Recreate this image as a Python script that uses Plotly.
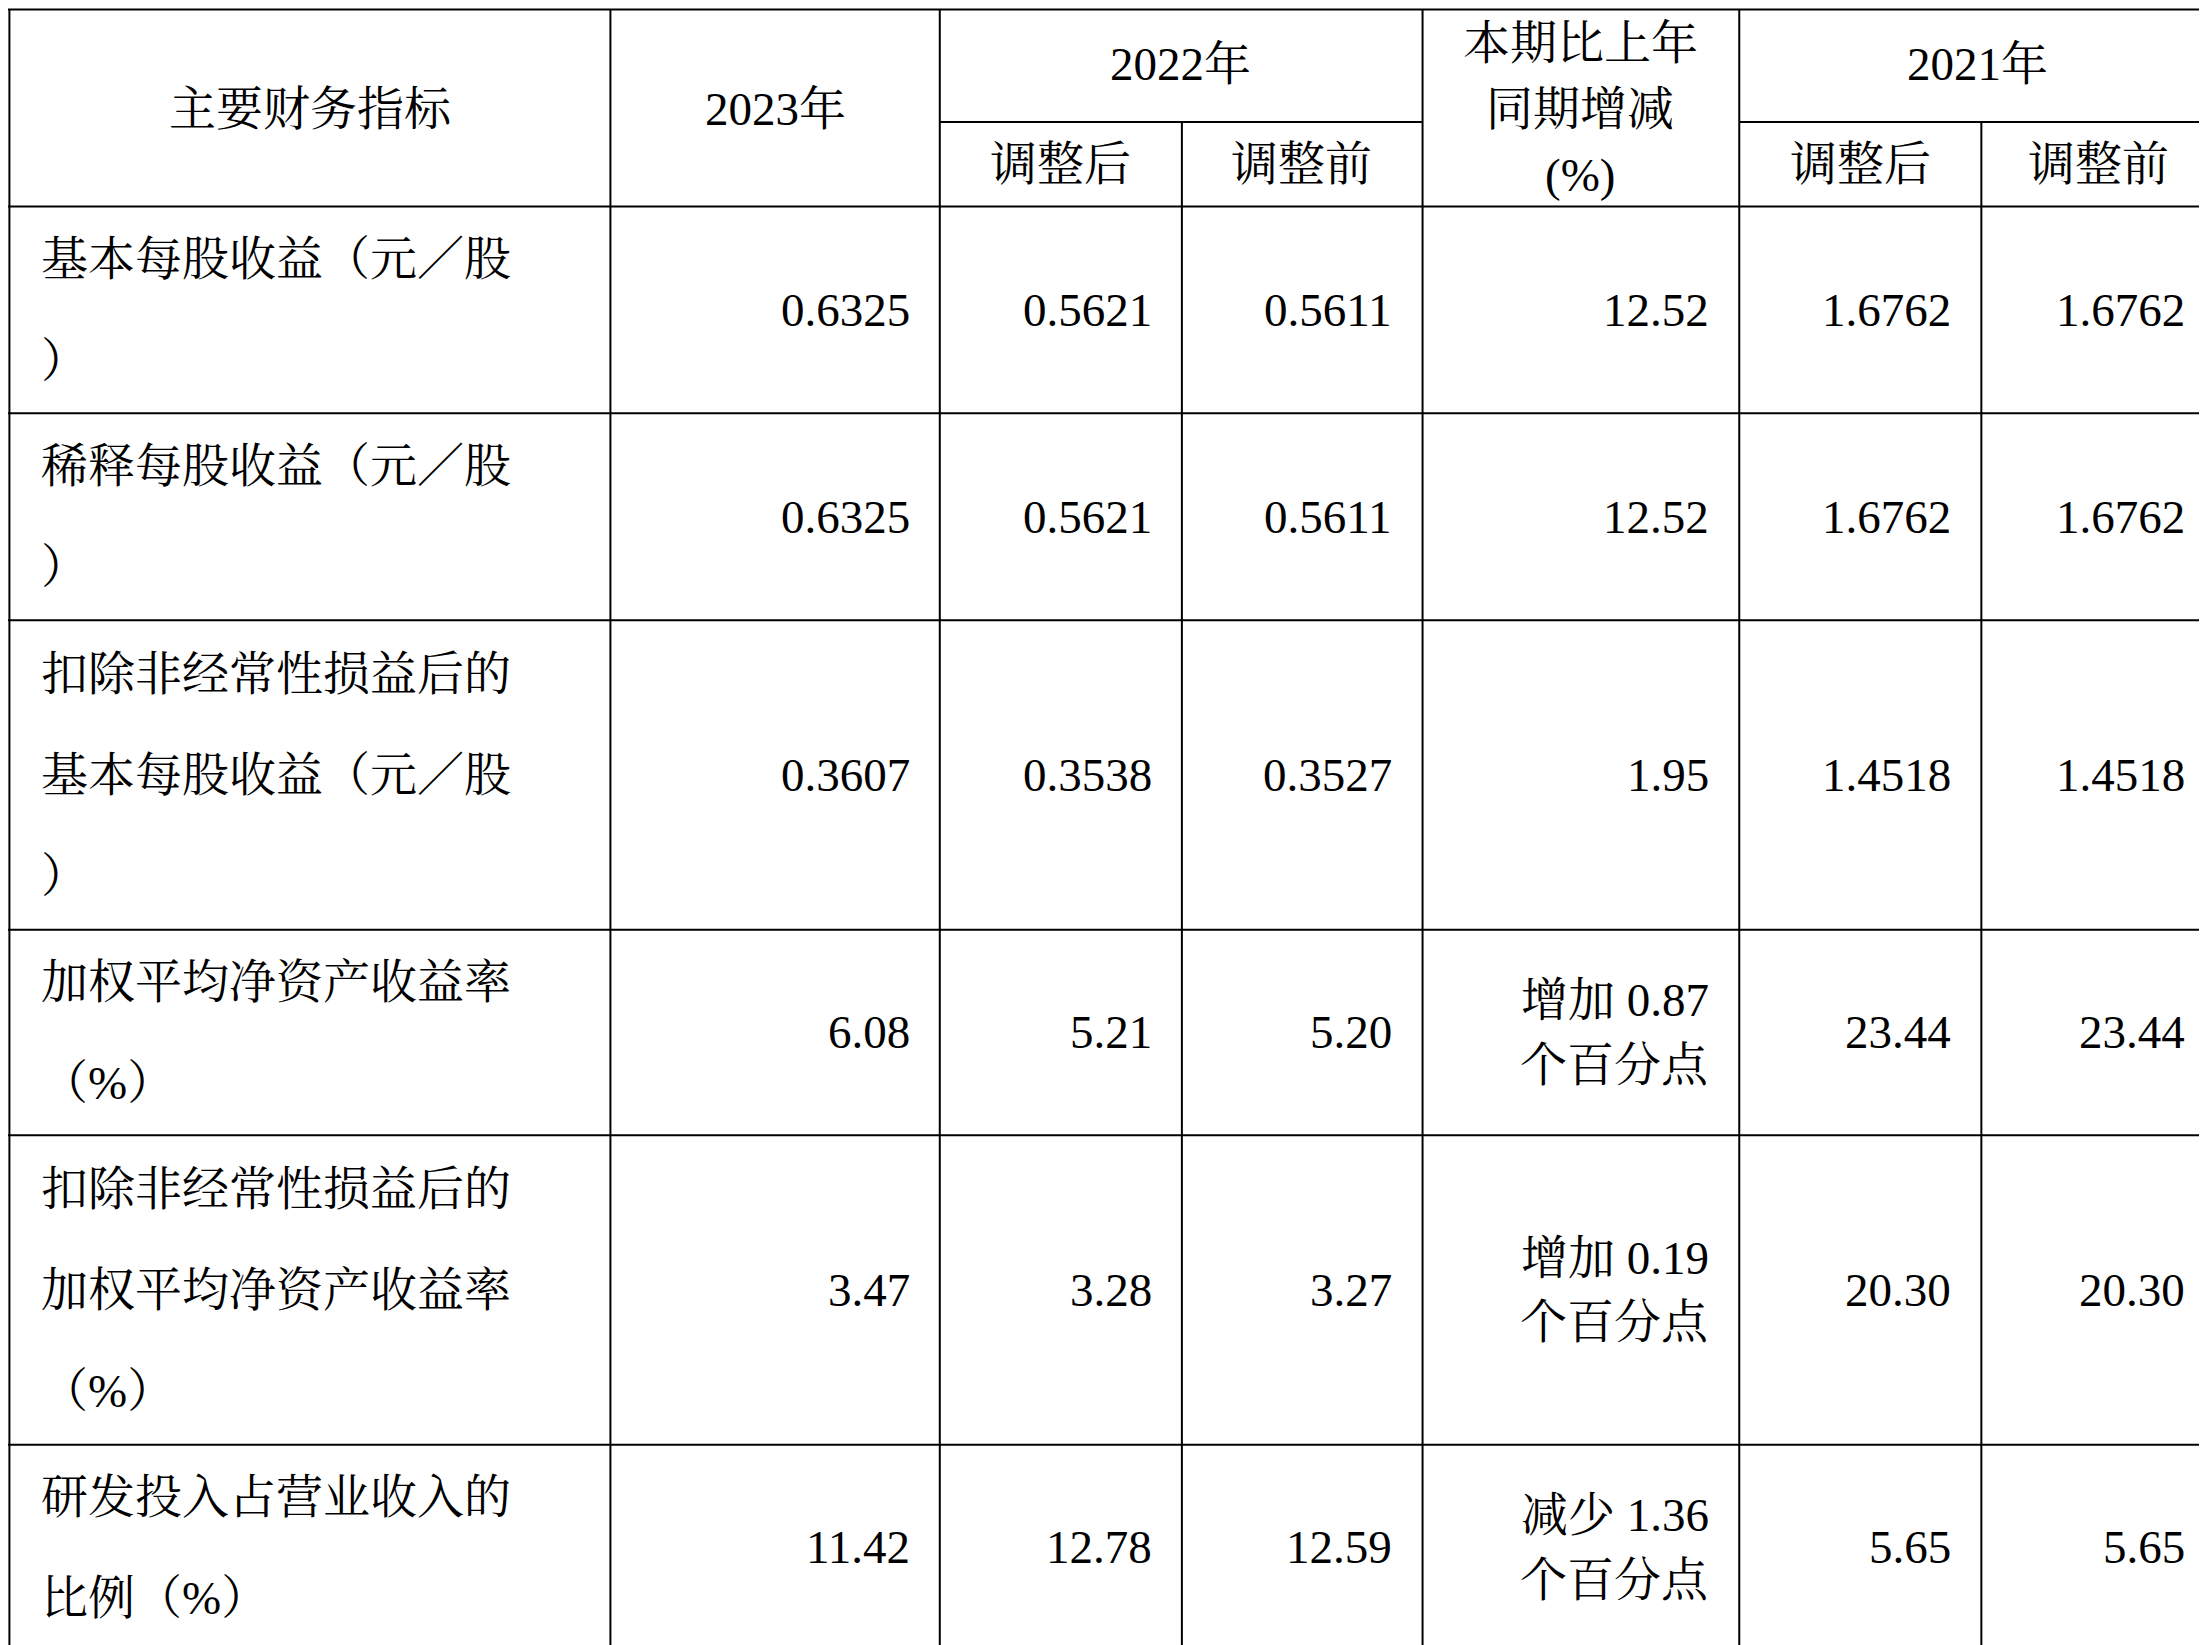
import plotly.graph_objects as go

row_labels = [
    ["基本每股收益（元／股", "）"],
    ["稀释每股收益（元／股", "）"],
    ["扣除非经常性损益后的", "基本每股收益（元／股", "）"],
    ["加权平均净资产收益率", "（%）"],
    ["扣除非经常性损益后的", "加权平均净资产收益率", "（%）"],
    ["研发投入占营业收入的", "比例（%）"],
]
v2023 = ["0.6325", "0.6325", "0.3607", "6.08", "3.47", "11.42"]
v2022_adj = ["0.5621", "0.5621", "0.3538", "5.21", "3.28", "12.78"]
v2022_pre = ["0.5611", "0.5611", "0.3527", "5.20", "3.27", "12.59"]
change = ["12.52", "12.52", "1.95", "增加 0.87<br>个百分点", "增加 0.19<br>个百分点", "减少 1.36<br>个百分点"]
v2021_adj = ["1.6762", "1.6762", "1.4518", "23.44", "20.30", "5.65"]
v2021_pre = ["1.6762", "1.6762", "1.4518", "23.44", "20.30", "5.65"]
header_main = ["主要财务指标", "2023年", "2022年", "本期比上年<br>同期增减<br>(%)", "2021年"]
sub_headers = ["调整后", "调整前", "调整后", "调整前"]

W, H = 1568, 1169
cols = [1, 428, 662, 834, 1005, 1230, 1402, 1567]
rows = [141, 288, 435, 655, 801, 1021, 1167]
FONT = "Liberation Serif, Noto Serif CJK SC, Noto Sans CJK SC"
FS = 47

fig = go.Figure()
shapes = []
def line(x0, y0, x1, y1):
    shapes.append(dict(type="line", x0=x0, y0=y0, x1=x1, y1=y1, xref="x", yref="y",
                       line=dict(color="black", width=2)))
line(0, 1, W, 1)
line(662, 81, 1005, 81)
line(1230, 81, W, 81)
for r in rows:
    line(0, r, W, r)
for c in cols:
    if c in (834, 1402):
        line(c, 81, c, 1167)
    else:
        line(c, 1, c, 1167)

ann = []
def t(x, y, text, xa="center", fs=FS):
    ann.append(dict(x=x, y=y, text=text, xref="x", yref="y", xanchor=xa, yanchor="middle",
                    showarrow=False, font=dict(family=FONT, size=fs, color="black")))

t(215, 72, header_main[0])
t(545, 72, header_main[1])
t(833, 40, header_main[2])
for i, line_txt in enumerate(header_main[3].split("<br>")):
    t(1117, 25 + i * 47, line_txt)
t(1399, 40, header_main[4])
for x, s in zip([748, 919, 1316, 1485], sub_headers):
    t(x, 111, s)

for i in range(6):
    top, bot = rows[i], rows[i + 1]
    mid = (top + bot) / 2
    lines = row_labels[i]
    n = len(lines)
    sp = 72
    y0 = mid - sp * (n - 1) / 2
    for j, l in enumerate(lines):
        t(22, y0 + j * sp, l, xa="left")
    for c_right, vals in zip([642, 814, 985, 1382, 1548], [v2023, v2022_adj, v2022_pre, v2021_adj, v2021_pre]):
        t(c_right, mid, vals[i], xa="right")
    parts = change[i].split("<br>")
    if len(parts) == 1:
        t(1210, mid, parts[0], xa="right")
    else:
        t(1210, mid - 23, parts[0], xa="right")
        t(1210, mid + 23, parts[1], xa="right")

fig.update_layout(width=2207, height=1645, margin=dict(l=0, r=0, t=0, b=0),
                  plot_bgcolor="white", paper_bgcolor="white",
                  shapes=shapes, annotations=ann,
                  xaxis=dict(range=[0, W], visible=False, fixedrange=True),
                  yaxis=dict(range=[H, 0], visible=False, fixedrange=True),
                  showlegend=False)
fig.write_html("out.html")
